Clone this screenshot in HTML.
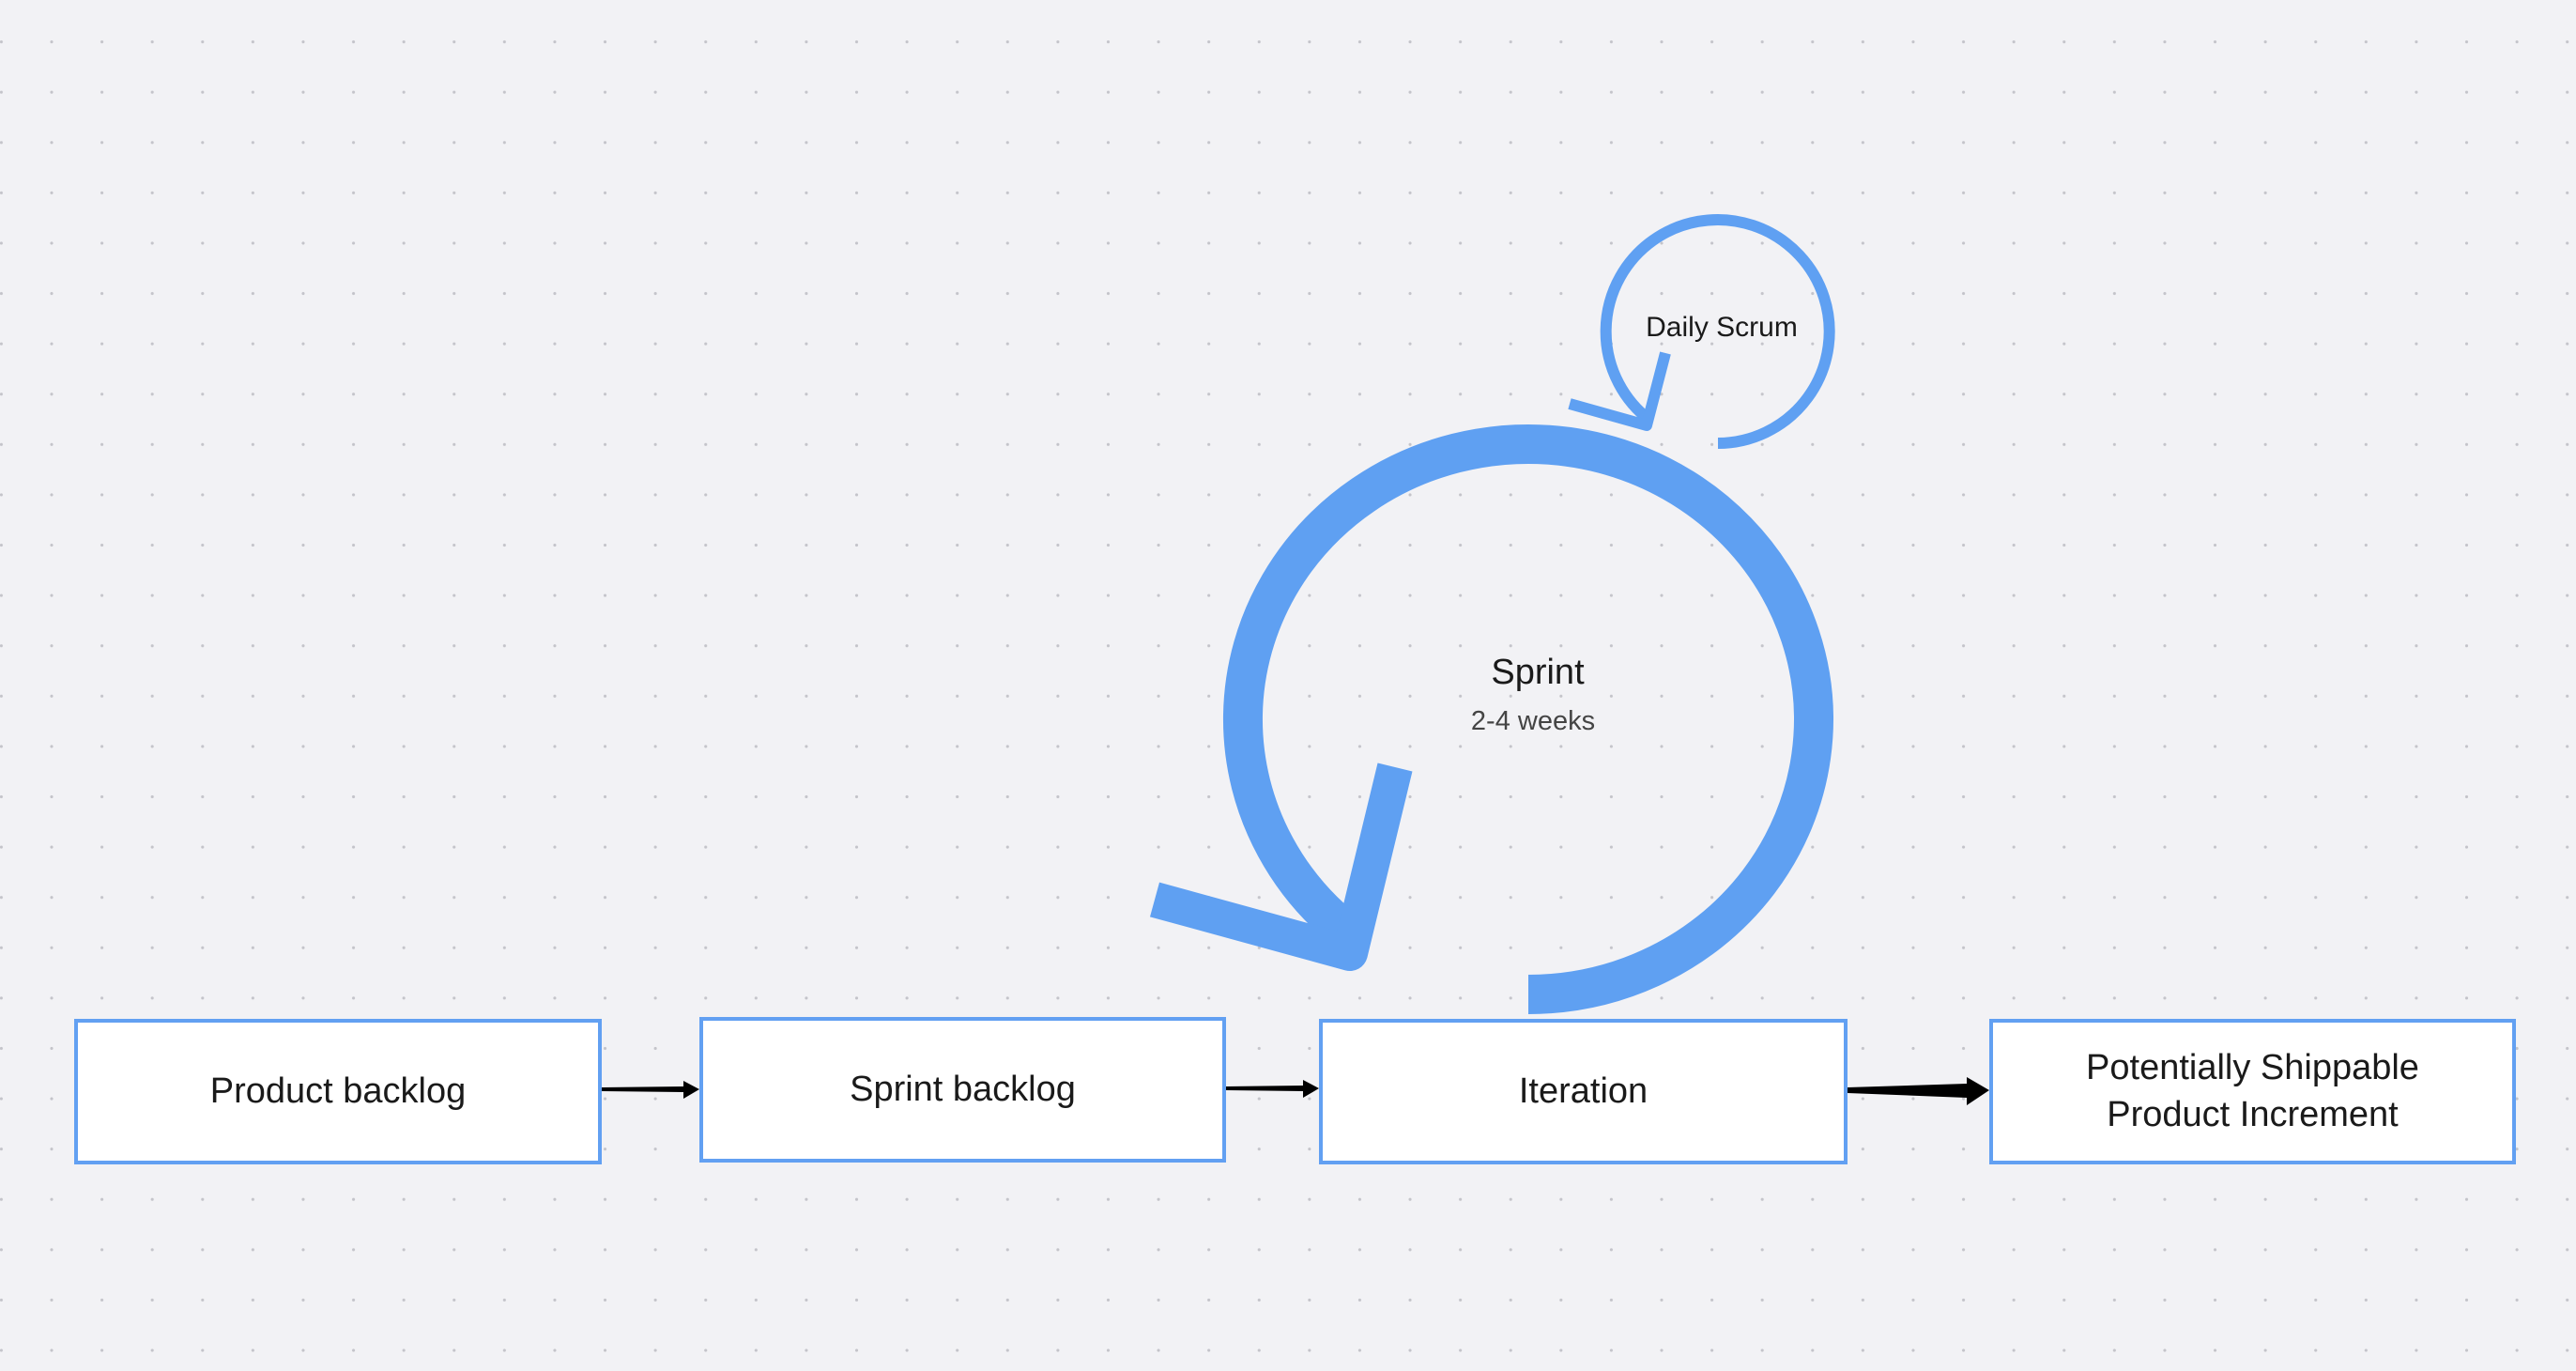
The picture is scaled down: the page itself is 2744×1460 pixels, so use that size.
<!DOCTYPE html>
<html><head><meta charset="utf-8"><style>
html,body{margin:0;padding:0;}
body{width:2744px;height:1460px;overflow:hidden;background:#f2f2f5;
background-image:radial-gradient(circle,#c4c4ca 1.4px,transparent 1.8px);
background-size:53.6px 53.6px;background-position:-25.4px 17.8px;}
.box{position:absolute;box-sizing:border-box;background:#fff;border:4px solid #62a0f2;
display:flex;align-items:center;justify-content:center;text-align:center;
font-family:"Liberation Sans",sans-serif;font-size:38px;color:#1a1a1a;line-height:1.3;}
svg{position:absolute;left:0;top:0;}
</style></head><body>
<div class="box" style="left:79px;top:1085px;width:562px;height:155px;">Product backlog</div>
<div class="box" style="left:745px;top:1083px;width:561px;height:155px;">Sprint backlog</div>
<div class="box" style="left:1405px;top:1085px;width:563px;height:155px;">Iteration</div>
<div class="box" style="left:2119px;top:1085px;width:561px;height:155px;">Potentially Shippable<br>Product Increment</div>
<svg width="2744" height="1460" viewBox="0 0 2744 1460">
<g fill="none" stroke="#5fa0f2">
<path d="M1628 1059 A304 293 0 1 0 1445 1000" stroke-width="42"/>
<polyline points="1230,958 1438,1015 1486,817" stroke-width="38" stroke-linejoin="round"/>
<path d="M1830 472 A119 119 0 1 0 1758 448" stroke-width="12"/>
<polyline points="1672,430 1754,453 1774,376" stroke-width="12" stroke-linejoin="round"/>
</g>
<g fill="#000">
<polygon points="641,1158 641,1162 728,1163 728,1170 745,1160 728,1151 728,1157"/>
<polygon points="1306,1157 1306,1161 1388,1162 1388,1169 1405,1159 1388,1150 1388,1156"/>
<polygon points="1968,1158 1968,1164 2095,1169 2095,1177 2119,1161 2095,1147 2095,1154"/>
</g>
<g font-family="Liberation Sans, sans-serif" text-anchor="middle">
<text x="1834" y="358" font-size="30" fill="#1a1a1a">Daily Scrum</text>
<text x="1638" y="728" font-size="38" fill="#1a1a1a">Sprint</text>
<text x="1633" y="777" font-size="29" fill="#444">2-4 weeks</text>
</g>
</svg>
</body></html>
